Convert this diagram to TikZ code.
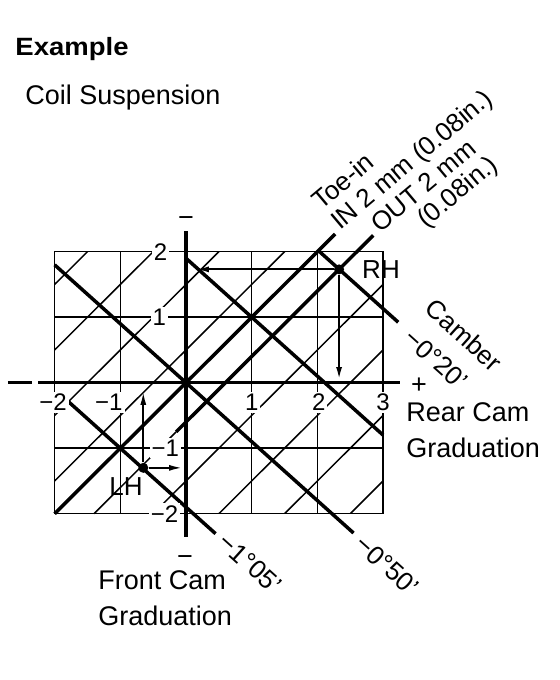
\documentclass[tikz,border=0pt]{standalone}
\usepackage{fontspec}
\setmainfont{Liberation Sans}
\usetikzlibrary{arrows.meta}
\begin{document}
\begin{tikzpicture}[x=0.5pt,y=-0.5pt,
  thinln/.style={line width=0.75pt},
  thickln/.style={line width=1.75pt},
  projrh/.style={line width=1.1pt,-{Latex[length=6.5pt,width=3pt]}},
  projlh/.style={line width=0.9pt,-{Latex[length=6.5pt,width=3pt]}},
  lbl/.style={font=\fontsize{13.5}{16}\selectfont, inner sep=0pt},
  rotlbl/.style={font=\fontsize{13}{15}\selectfont, inner sep=0pt},
  ptlbl/.style={font=\fontsize{13}{15}\selectfont, inner sep=0pt},
  ticklbl/.style={font=\fontsize{12}{14}\selectfont, fill=white, inner sep=1pt},
  titlelbl/.style={font=\bfseries\fontsize{12.5}{15}\selectfont, inner sep=0pt, xscale=1.1},
  dotmark/.style={circle, fill=black, inner sep=0pt, minimum size=5pt}
]
\useasboundingbox (0,0) rectangle (560,680);

% titles
\node[titlelbl, anchor=base west] (title) at (15,55) {Example};
\node[lbl, anchor=base west] (sub) at (25,104) {Coil Suspension};

% chart
\begin{scope}[shift={(186,382.7)}, x=32.85pt, y=32.75pt]
  % thin grid
  \draw[thinln] (-2,-2) rectangle (3,2);
  \foreach \i in {-1,0,1,2} \draw[thinln] (\i,-2) -- (\i,2);
  \foreach \j in {-1,1} \draw[thinln] (-2,\j) -- (3,\j);
  % thin hatch diagonals
  \begin{scope}
    \clip (-2,-2) rectangle (3,2);
    \foreach \d in {-3.5,-2.5,-1.5,-0.5,1.5,2.5,3.5,4.5}
      \draw[thinln] (-3,{-3-\d}) -- (5,{5-\d});
  \end{scope}
  \draw[thinln] (-1.4,-2) -- (-0.15,-0.75);
  % axes
  \draw[thickln] (-2.25,0) -- (3.26,0);
  \draw[thickln] (-2.71,0) -- (-2.34,0);
  \draw[thickln] (0,-2.35) -- (0,2.31);
  % toe-in lines
  \draw[thickln] (-2,-2) -- (2.27,2.27);
  \draw[thickln] (-0.15,-0.75) -- (2.85,2.25);
  % camber lines
  \draw[thickln] (-2,1.8) -- (2.55,-2.295);
  \draw[thickln] (0,1.9) -- (3,-0.8);
  \draw[thickln] (2.03,2.003) -- (3.23,0.923);
  \draw[thickln] (-1.8,-0.28) -- (0.45,-2.305);
  % tick labels
  \node[ticklbl, anchor=east] (y2) at (-0.25,2) {2};
  \node[ticklbl, anchor=east] (y1) at (-0.27,1) {1};
  \node[ticklbl, anchor=east] (ym1) at (-0.07,-1) {−1};
  \node[ticklbl, anchor=east] (ym2) at (-0.08,-2) {−2};
  \node[ticklbl] (x1) at (1,-0.3) {1};
  \node[ticklbl] (x2) at (2.02,-0.3) {2};
  \node[ticklbl] (x3) at (3,-0.3) {3};
  \node[ticklbl, anchor=east] (xm1) at (-0.93,-0.3) {−1};
  \node[ticklbl, anchor=east] (xm2) at (-1.78,-0.3) {−2};
  % points and projections
  \node[dotmark] (rh) at (2.33,1.73) {};
  \node[dotmark] (lh) at (-0.65,-1.30) {};
  \coordinate (rhx) at (2.33,0.04);
  \coordinate (rhy) at (0.15,1.73);
  \coordinate (lhx) at (-0.65,-0.14);
  \coordinate (lhy) at (-0.06,-1.30);
  \draw[projrh] (rh) -- (rhx);
  \draw[projrh] (rh) -- (rhy);
  \draw[projlh] (lh) -- (lhx);
  \draw[projlh] (lh) -- (lhy);
\end{scope}

% point labels
\node[ptlbl] (rhl) at (381,270) {RH};
\node[ptlbl] (lhl) at (126,487) {LH};

% axis signs
\node[lbl] (plus) at (419,386) {+};
\node[lbl] (mtop) at (186,222) {−};
\node[lbl] (mbot) at (185,561) {−};

% axis captions
\node[lbl, anchor=base west] (rear1) at (406,421) {Rear Cam};
\node[lbl, anchor=base west] (rear2) at (406,457) {Graduation};
\node[lbl, anchor=base west] (front1) at (98,589) {Front Cam};
\node[lbl, anchor=base west] (front2) at (98,625) {Graduation};

% toe-in labels
\node[rotlbl, rotate=40, anchor=base west] (toe) at (321,211) {Toe-in};
\node[rotlbl, rotate=40, anchor=base west] (toein) at (340,231) {IN 2 mm (0.08in.)};
\node[rotlbl, rotate=40, anchor=base west] (toeout) at (380,234) {OUT 2 mm};
\node[rotlbl, rotate=40, anchor=base west] (toeout2) at (426,229) {(0.08in.)};

% camber labels
\node[rotlbl, rotate=-42] (camber) at (464,335) {Camber};
\node[rotlbl, rotate=-42, anchor=west] (c20) at (408,334) {−0°20’};
\node[rotlbl, rotate=-42, anchor=west] (c50) at (359,540) {−0°50’};
\node[rotlbl, rotate=-42, anchor=west] (c105) at (222,538) {−1°05’};
\end{tikzpicture}
\end{document}
